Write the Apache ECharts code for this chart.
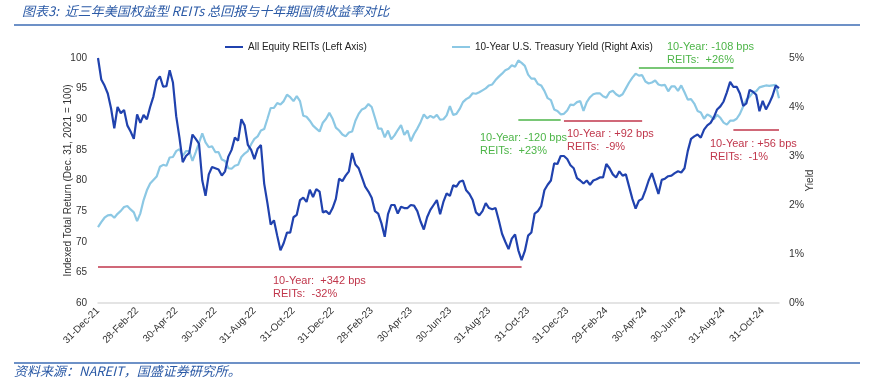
<!DOCTYPE html>
<html><head><meta charset="utf-8">
<script src="https://cdn.jsdelivr.net/npm/echarts@6/dist/echarts.min.js"></script>
<style>html,body{margin:0;padding:0;background:#fff}#c{width:874px;height:378px}</style>
</head><body><div id="c"></div>
<script>
const tickLabels = ['31-Dec-21','28-Feb-22','30-Apr-22','30-Jun-22','31-Aug-22','31-Oct-22','31-Dec-22','28-Feb-23','30-Apr-23','30-Jun-23','31-Aug-23','31-Oct-23','31-Dec-23','29-Feb-24','30-Apr-24','30-Jun-24','31-Aug-24','31-Oct-24'];
const stepsPerTick = 12;

const reits = [100,96.5,95.5,94.2,91.8,88.5,92,91,91.5,89,88,86.8,90.8,89.4,90.7,90,92,93.7,96.3,97,
95.3,95.4,98,96,90.5,87,83,84,84.5,87.5,86.8,86,80,77.5,81,82.2,82,81.8,80.8,81.5,
83.9,85,87,86.5,90,89,85.8,85,83.5,85.2,85.8,79.5,76.3,72.8,73.5,71,68.6,69.8,71.5,71.5,
74,74.4,76.8,77.2,76.5,78.5,77.3,78.6,78.2,74.8,75,74.5,75.5,77,80.3,79.9,80.8,81.5,84.5,82.6,
82,80.5,79,78.2,77.2,75,74.6,73,70.8,74.5,76,76,74.6,75.7,75.5,75.5,76,75.9,75,73.3,
72,74,75.2,76,76.8,74.5,76.5,77.9,77.5,79.2,79,79.8,80,78.4,77.8,76.8,74.8,74.3,75,76.3,
75.5,75.3,75.5,73.5,71.3,70,68.8,70.5,71.2,68.6,67,68.5,71,71.5,74.6,75,75.8,78.4,79.3,80,
82.8,82.7,84,84,83.5,82.5,82,80.4,80,79.5,80,79.3,80,80.2,80.5,80.5,82.7,82,81,80.5,
81.5,80.8,81,79,77,75.4,76.7,77,78.4,80,81.2,79.5,77.8,80.1,80.3,80.7,80.8,81.2,81.5,81.3,
82,84.8,86.8,87.2,87.5,87,88.3,89,89.4,90.3,91.6,92.1,92.9,94.4,96.1,95.3,95.3,94.2,92.2,92.6,
94.8,94.5,94,91.3,93,91.6,92.6,93.8,95.5,95.1];

const yields = [1.55,1.65,1.74,1.79,1.80,1.74,1.82,1.88,1.96,1.98,1.91,1.85,1.67,1.83,2.10,2.30,2.44,2.51,2.58,2.78,
2.82,2.80,2.97,2.98,3.10,3.14,3.00,3.10,3.10,2.90,3.08,3.27,3.46,3.28,3.18,3.20,3.08,3.08,2.93,2.90,
2.75,2.74,2.80,2.82,2.98,3.05,3.10,3.24,3.35,3.40,3.52,3.55,3.76,3.98,3.98,4.08,4.05,4.12,4.25,4.20,
4.12,4.22,4.12,3.82,3.80,3.72,3.62,3.56,3.50,3.68,3.76,3.88,3.76,3.58,3.52,3.44,3.40,3.48,3.50,3.72,
3.86,3.95,3.98,4.06,4.00,3.78,3.56,3.56,3.38,3.52,3.34,3.42,3.53,3.63,3.43,3.52,3.30,3.45,3.56,3.69,
3.85,3.77,3.82,3.78,3.84,3.74,3.75,3.83,4.02,3.84,3.86,3.96,4.10,4.16,4.20,4.28,4.27,4.30,4.34,4.38,
4.44,4.46,4.55,4.62,4.68,4.75,4.78,4.85,4.82,4.95,4.90,4.84,4.66,4.58,4.58,4.47,4.44,4.33,4.18,4.14,
3.95,3.92,3.85,3.86,3.93,4.05,4.04,4.10,4.12,3.92,4.10,4.20,4.26,4.28,4.28,4.22,4.19,4.30,4.33,4.26,
4.22,4.26,4.38,4.50,4.60,4.68,4.64,4.65,4.52,4.48,4.50,4.54,4.46,4.44,4.45,4.32,4.42,4.42,4.33,4.44,
4.30,4.15,4.16,4.07,3.92,3.89,3.76,3.85,3.81,3.75,3.84,3.78,3.68,3.64,3.72,3.72,3.76,3.86,4.01,4.15,
4.21,4.30,4.32,4.40,4.42,4.44,4.43,4.44,4.45,4.18];

// annotation segments: [startIndex, endIndex, value]
const segBottom = [0, 130, 66];          // left axis
const segGreen1 = [129, 142, 3.73];      // right axis
const segRed1   = [143, 167, 3.72];
const segGreen2 = [166, 195, 4.80];
const segRed2   = [195, 209, 3.54];

const annotations = [
  {lines:['10-Year:  +342 bps','REITs:  -32%'], color:'red', x:273, y:274},
  {lines:['10-Year: -120 bps','REITs:  +23%'], color:'green', x:480, y:131},
  {lines:['10-Year : +92 bps','REITs:  -9%'], color:'red', x:567, y:127},
  {lines:['10-Year: -108 bps','REITs:  +26%'], color:'green', x:667, y:40},
  {lines:['10-Year : +56 bps','REITs:  -1%'], color:'red', x:710, y:137}
];

const categories = reits.map((v, i) => (i % stepsPerTick === 0 ? tickLabels[i / stepsPerTick] : 'p' + i));

const RED = '#C0364B', GREEN = '#4DB548', DARK = '#2042AE', LIGHT = '#8CC8E4';
const FONT = '"Liberation Sans", Arial, sans-serif';

function seg(s, color) {
  return [{coord: [categories[s[0]], s[2]], lineStyle: {color: color, width: 1.6, type: 'solid'}},
          {coord: [categories[s[1]], s[2]]}];
}

const chart = echarts.init(document.getElementById('c'));
const graphics = [
  {type:'text', left:22, top:5, style:{text:'图表3:  近三年美国权益型 REITs 总回报与十年期国债收益率对比', font:'italic 13px "Noto Sans CJK SC"', fill:'#2B5AA6'}},
  {type:'line', shape:{x1:14, y1:25, x2:860, y2:25}, style:{stroke:'#3D6DB5', lineWidth:1.5}},
  {type:'line', shape:{x1:14, y1:363, x2:860, y2:363}, style:{stroke:'#3D6DB5', lineWidth:1.5}},
  {type:'text', left:14, top:365, style:{text:'资料来源：NAREIT，国盛证券研究所。', font:'italic 13px "Noto Sans CJK SC"', fill:'#2B5AA6'}}
];
annotations.forEach(a => {
  graphics.push({type:'text', left:a.x, top:a.y, style:{text:a.lines.join('\n'), font:'11px ' + FONT, lineHeight:13, fill: a.color === 'red' ? RED : GREEN}});
});

chart.setOption({
  animation: false,
  grid: {left: 98, right: 95, top: 58, bottom: 75},
  legend: [
    {left: 220, top: 37, icon: 'rect', itemWidth: 18, itemHeight: 2, itemGap: 5,
     textStyle: {fontSize: 10, fontFamily: FONT, color: '#222'}, data: ['All Equity REITs (Left Axis)']},
    {left: 447, top: 37, icon: 'rect', itemWidth: 18, itemHeight: 2, itemGap: 5,
     textStyle: {fontSize: 10, fontFamily: FONT, color: '#222'}, data: ['10-Year U.S. Treasury Yield (Right Axis)']}
  ],
  xAxis: {
    type: 'category', data: categories, boundaryGap: false,
    axisLine: {lineStyle: {color: '#DCDCDC', width: 1.5}},
    axisTick: {show: false},
    axisLabel: {interval: stepsPerTick - 1, rotate: 45, fontSize: 10, fontFamily: FONT, color: '#333', margin: 6}
  },
  yAxis: [
    {type: 'value', min: 60, max: 100, interval: 5,
     name: 'Indexed Total Return (Dec. 31, 2021 = 100)', nameLocation: 'middle', nameGap: 25, nameRotate: 90,
     nameMoveOverlap: false,
     nameTextStyle: {fontSize: 10, fontFamily: FONT, color: '#333'},
     axisLine: {show: false}, axisTick: {show: false}, splitLine: {show: false},
     axisLabel: {fontSize: 10, fontFamily: FONT, color: '#333', margin: 11}},
    {type: 'value', min: 0, max: 5, interval: 1,
     name: 'Yield', nameLocation: 'middle', nameGap: 26, nameRotate: 90,
     nameMoveOverlap: false,
     nameTextStyle: {fontSize: 10, fontFamily: FONT, color: '#333'},
     axisLine: {show: false}, axisTick: {show: false}, splitLine: {show: false},
     axisLabel: {fontSize: 10.5, fontFamily: FONT, color: '#333', margin: 10, formatter: '{value}%'}}
  ],
  series: [
    {name: '10-Year U.S. Treasury Yield (Right Axis)', type: 'line', yAxisIndex: 1, data: yields,
     showSymbol: false, symbol: 'none', lineStyle: {color: LIGHT, width: 2.2}, itemStyle: {color: LIGHT},
     markLine: {silent: true, symbol: 'none', label: {show: false},
       data: [seg(segGreen1, GREEN), seg(segRed1, RED), seg(segGreen2, GREEN), seg(segRed2, RED)]}},
    {name: 'All Equity REITs (Left Axis)', type: 'line', yAxisIndex: 0, data: reits,
     showSymbol: false, symbol: 'none', lineStyle: {color: DARK, width: 2.2}, itemStyle: {color: DARK},
     markLine: {silent: true, symbol: 'none', label: {show: false}, data: [seg(segBottom, RED)]}}
  ],
  graphic: graphics
});
</script></body></html>
